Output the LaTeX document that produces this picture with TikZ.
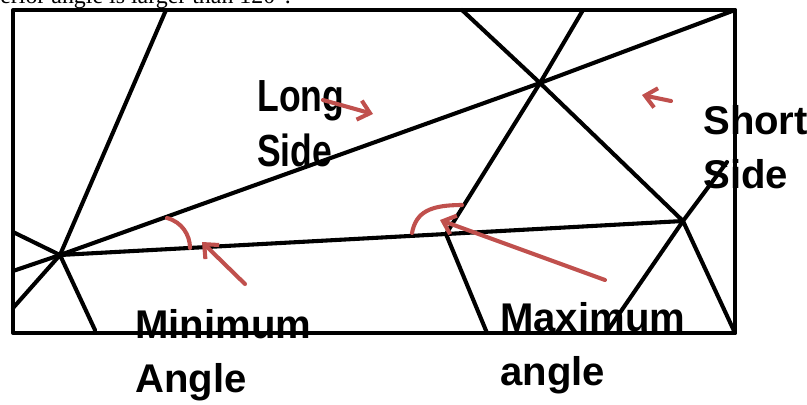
\documentclass[tikz,border=0pt]{standalone}
\usepackage{fontspec}
\setmainfont{Liberation Serif}
\newfontfamily\labelfont{Liberation Sans}
\newfontfamily\narrowfont[FakeStretch=0.79]{Liberation Sans}
\usetikzlibrary{arrows.meta}
\definecolor{pointer}{HTML}{C0504D}

\begin{document}
\begin{tikzpicture}[x=0.025cm,y=-0.025cm,
    mesh/.style={line width=2.9pt,line cap=round,line join=round},
    pointerarrow/.style={pointer,line width=2.9pt,line cap=round,-{Straight Barb[length=8pt,width=14pt]}},
    anglearc/.style={pointer,line width=2.9pt,line cap=round},
    caption/.style={anchor=base west,inner sep=0pt,align=left,font=\labelfont\bfseries\fontsize{28.5}{38}\selectfont}]
        \useasboundingbox (0,0) rectangle (807,404);
        \node[anchor=base west,inner sep=0pt,font=\fontsize{17}{20}\selectfont] (heading) at (0,3) {erior angle is larger than 120°.};
        % mesh vertices
        \coordinate (A) at (60,255);
        \coordinate (B) at (540,83);
        \coordinate (C) at (683,221);
        \coordinate (D) at (446,234);
        \coordinate (nw) at (13,10);
        \coordinate (ne) at (735,10);
        \coordinate (se) at (735,333);
        \coordinate (sw) at (13,333);
        \coordinate (t1) at (166,10);
        \coordinate (t2) at (462,10);
        \coordinate (t3) at (583,10);
        \coordinate (l1) at (13,232);
        \coordinate (l2) at (13,271);
        \coordinate (l3) at (13,308);
        \coordinate (b1) at (95,330);
        \coordinate (b2) at (487,333);
        \coordinate (b3) at (606,333);
        \coordinate (s1) at (727,162);
        \draw[mesh] (nw) rectangle (se);
        \draw[mesh] (l2) -- (A) -- (B) -- (ne);
        \draw[mesh] (A) -- (D) -- (C);
        \draw[mesh] (t1) -- (A) -- (l1);
        \draw[mesh] (l3) -- (A) -- (b1);
        \draw[mesh] (t2) -- (B) -- (t3);
        \draw[mesh] (D) -- (B) -- (C);
        \draw[mesh] (D) -- (b2);
        \draw[mesh] (b3) -- (C) -- (se);
        \draw[mesh] (C) -- (s1);
        % labels
        \node[caption,font=\narrowfont\bfseries\fontsize{32}{39}\selectfont] (longside) at (257,166) {Long\\Side};
        \node[caption] (shortside) at (703,188) {Short\\Side};
        \node[caption] (minangle) at (135,392) {Minimum\\Angle};
        \node[caption] (maxangle) at (500,385) {Maximum\\angle};
        % pointers
        \coordinate (longtail) at (323,100);
        \coordinate (longtip) at (373,114);
        \coordinate (shorttail) at (671,101);
        \coordinate (shorttip) at (642,95);
        \coordinate (mintail) at (245,284);
        \coordinate (mintip) at (202,242);
        \coordinate (maxtail) at (605,280);
        \coordinate (maxtip) at (440,220);
        \draw[pointerarrow] (longtail) -- (longtip);
        \draw[pointerarrow] (shorttail) -- (shorttip);
        \draw[pointerarrow] (mintail) -- (mintip);
        \draw[pointerarrow] (maxtail) -- (maxtip);
        \coordinate (minarc1) at (167,218);
        \coordinate (minarc2) at (190,248);
        \coordinate (maxarc1) at (412,233);
        \coordinate (maxarc2) at (462,205);
        \draw[anglearc] (minarc1) .. controls (182,222) and (190,235) .. (minarc2);
        \draw[anglearc] (maxarc1) .. controls (416,212) and (430,205) .. (maxarc2);
\end{tikzpicture}
\end{document}
